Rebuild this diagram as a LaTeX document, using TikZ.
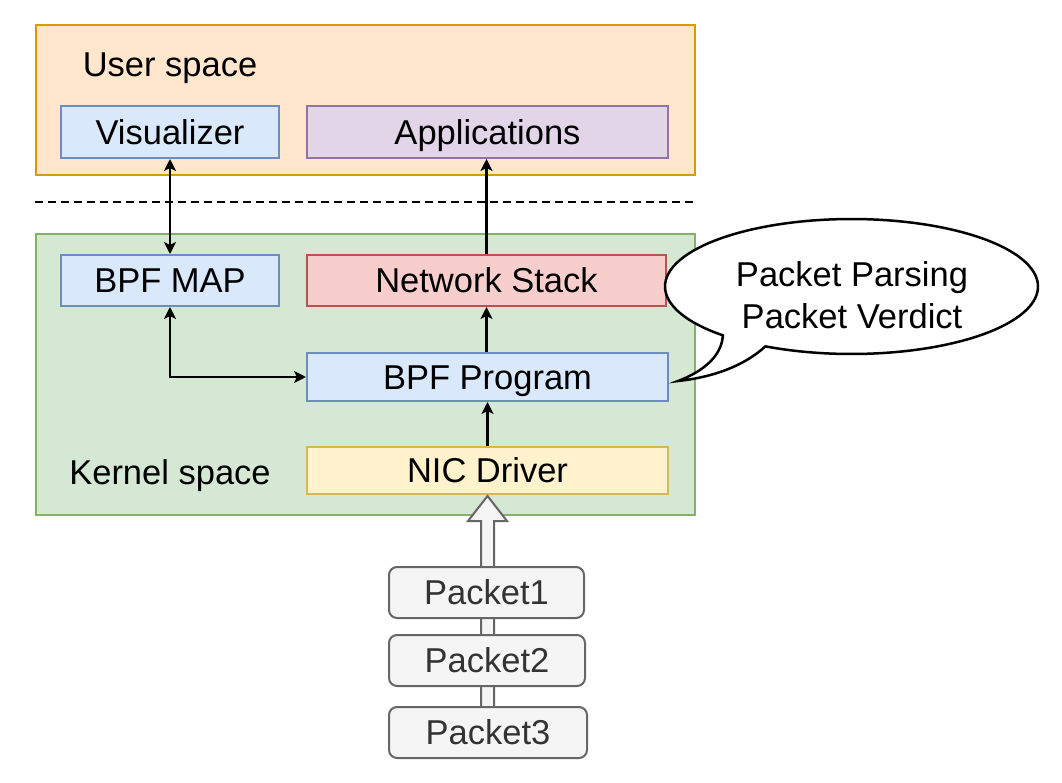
\documentclass[tikz,border=0pt]{standalone}
\usepackage{fontspec}
\setmainfont{Liberation Sans}
\usetikzlibrary{arrows.meta,calc}
\definecolor{userfill}{HTML}{FFE6CC}\definecolor{userdraw}{HTML}{D79B00}
\definecolor{kernfill}{HTML}{D5E8D4}\definecolor{kerndraw}{HTML}{82B366}
\definecolor{bluefill}{HTML}{DAE8FC}\definecolor{bluedraw}{HTML}{6C8EBF}
\definecolor{purpfill}{HTML}{E1D5E7}\definecolor{purpdraw}{HTML}{9673A6}
\definecolor{redfill}{HTML}{F8CECC}\definecolor{reddraw}{HTML}{B85450}
\definecolor{yelfill}{HTML}{FFF2CC}\definecolor{yeldraw}{HTML}{D6B656}
\definecolor{grayfill}{HTML}{F5F5F5}\definecolor{graydraw}{HTML}{666666}
\definecolor{graytext}{HTML}{333333}
\begin{document}
\begin{tikzpicture}[x=1pt,y=-1pt,
  every node/.style={font=\fontsize{34.5}{42}\selectfont, inner sep=0pt},
  txt/.style={text height=24.7pt, text depth=0pt},
  region/.style={draw, line width=2pt, minimum width=659pt},
  box/.style={draw, line width=2pt, txt},
  pkt/.style={draw=graydraw, fill=grayfill, text=graytext, line width=2pt, rounded corners=8pt, minimum height=51pt, txt},
  tip/.style={Stealth[length=12pt,width=12pt,inset=3pt]},
  conn/.style={line width=2.2pt, -{Stealth[length=12pt,width=12pt,inset=3pt]}},
  biconn/.style={line width=2.2pt, {Stealth[length=12pt,width=12pt,inset=3pt]}-{Stealth[length=12pt,width=12pt,inset=3pt]}}
]
\useasboundingbox (0,0) rectangle (1062,783);
% regions
\node[region, draw=userdraw, fill=userfill, minimum height=150pt] (user) at (365.5,100) {};
\node[region, draw=kerndraw, fill=kernfill, minimum height=281pt] (kernel) at (365.5,374.5) {};
\node[txt] (userlbl) at (170,64) {User space};
\node[txt] (kernlbl) at (170,472) {Kernel space};
\coordinate (dashL) at (35,202);
\coordinate (dashR) at (697,202);
\draw[line width=2pt, dash pattern=on 8pt off 5pt] (dashL) -- (dashR);
% boxes
\node[box, draw=bluedraw, fill=bluefill, minimum width=218pt, minimum height=52pt] (vis) at (170,132) {Visualizer};
\node[box, draw=purpdraw, fill=purpfill, minimum width=361pt, minimum height=52pt] (app) at (487.5,132) {Applications};
\node[box, draw=bluedraw, fill=bluefill, minimum width=218pt, minimum height=51pt] (map) at (170,280.5) {BPF MAP};
\node[box, draw=reddraw, fill=redfill, minimum width=359pt, minimum height=51pt] (ns) at (486.5,280.5) {Network Stack};
\node[box, draw=bluedraw, fill=bluefill, minimum width=361pt, minimum height=48pt] (prog) at (487.5,377) {BPF Program};
\node[box, draw=yeldraw, fill=yelfill, minimum width=361pt, minimum height=47pt] (nic) at (487.5,470.5) {NIC Driver};
% big arrow
\coordinate (bigtail) at (487.5,735);
\coordinate (bigtip) at (487.5,496);
\draw[draw=graydraw, fill=grayfill, line width=2pt, line join=miter]
  ($(bigtail)+(-6.5,0)$) -- (481,521) -- (468,521) -- (bigtip) -- (507,521) -- (494,521) -- ($(bigtail)+(6.5,0)$) -- cycle;
% packets
\node[pkt, minimum width=195pt] (p1) at (486.5,592.5) {Packet1};
\node[pkt, minimum width=196pt] (p2) at (487,660.5) {Packet2};
\node[pkt, minimum width=198pt] (p3) at (488,732.5) {Packet3};
% connectors
\draw[biconn] (vis.south) -- (map.north);
\draw[conn] (ns.north) -- (ns.north |- app.south);
\draw[conn] (prog.north -| ns.north) -- (ns.south);
\draw[conn] (nic.north) -- (prog.south);
\draw[biconn] (map.south) -- (map.south |- prog.west) -- (prog.west);
% speech bubble
\coordinate (btip) at (678,381);
\coordinate (bA) at ({851.5+186.5*cos(133.6)},{286.5+67.5*sin(133.6)});
\coordinate (bB) at ({851.5+186.5*cos(117.5)},{286.5+67.5*sin(117.5)});
\draw[line width=2.5pt, fill=white, line join=miter]
  (btip) .. controls (712,368) and (722,350) .. (bA)
  -- plot[domain=133.6:477.5, samples=120, variable=\t] ({851.5+186.5*cos(\t)},{286.5+67.5*sin(\t)})
  -- (bB) .. controls (745,365) and (715,377) .. (btip) -- cycle;
\node[align=center] (bubbletext) at (852,286) [yshift=-9pt] {Packet Parsing\\Packet Verdict};
\end{tikzpicture}
\end{document}
